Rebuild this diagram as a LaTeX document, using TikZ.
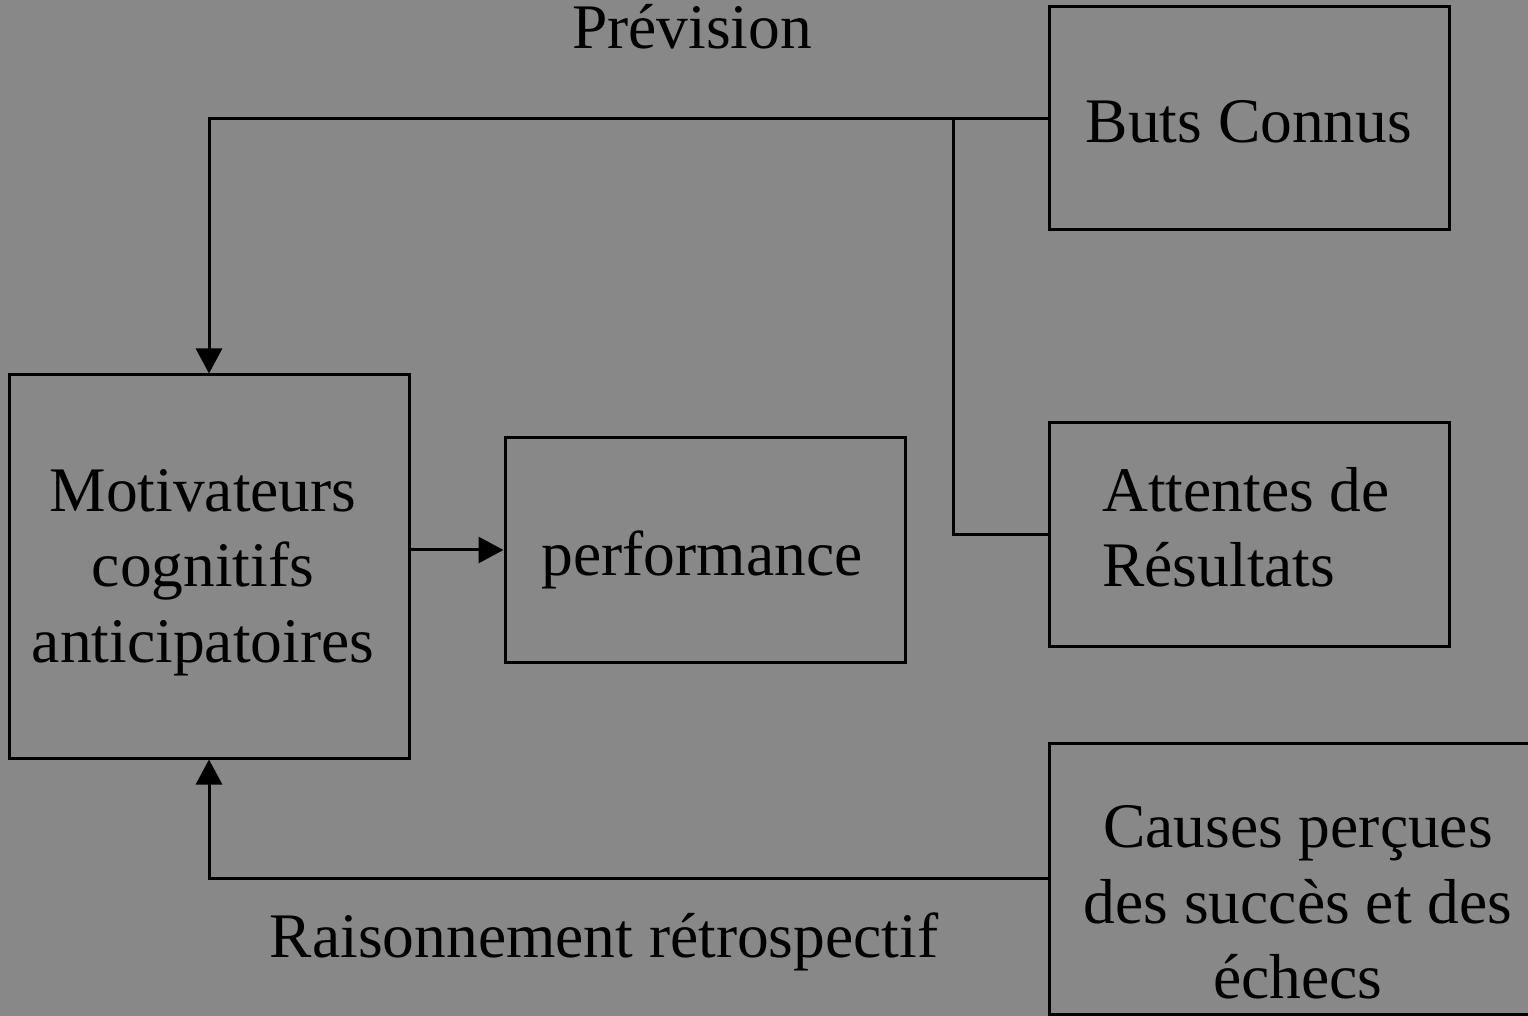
\documentclass[tikz,border=0pt]{standalone}
\usepackage{fontspec}
\setmainfont{Liberation Serif}
\usetikzlibrary{arrows.meta}
\definecolor{bgray}{RGB}{136,136,136}
\begin{document}
\begin{tikzpicture}[x=0.5pt,y=-0.5pt,
  every node/.style={font=\fontsize{31.75}{38}\selectfont, inner sep=0pt},
  box/.style={draw=black, line width=1.5pt, rectangle},
  txt/.style={anchor=base},
  txtl/.style={anchor=base west},
  conn/.style={draw=black, line width=1.5pt},
  arr/.style={conn, -{Triangle[width=13pt,length=12.5pt]}}]
  % canvas
  \fill[bgray] (0,0) rectangle (1528,1016);
  \useasboundingbox (0,0) rectangle (1528,1016);
  \clip (0,0) rectangle (1528,1016);

  % boxes
  \node[box, minimum width=200pt, minimum height=111.5pt] (buts) at (1249,118.5) {};
  \node[box, minimum width=200pt, minimum height=111.5pt] (attentes) at (1249,534.5) {};
  \node[box, minimum width=249.5pt, minimum height=135.5pt] (causes) at (1298.5,878.5) {};
  \node[box, minimum width=200pt, minimum height=191.5pt] (motiv) at (209,566.5) {};
  \node[box, minimum width=200pt, minimum height=112pt] (perf) at (705,550) {};

  % box texts, one node per printed line
  \node[txt] (buts-t) at (1249,143) {Buts Connus};
  \node[txtl] (att-t1) at (1102,511) {Attentes de};
  \node[txtl] (att-t2) at (1102,587) {Résultats};
  \node[txt] (cau-t1) at (1298,847) {Causes perçues};
  \node[txt] (cau-t2) at (1298,923) {des succès et des};
  \node[txt] (cau-t3) at (1298,998) {échecs};
  \node[txt] (mot-t1) at (203,511) {Motivateurs};
  \node[txt] (mot-t2) at (203,587) {cognitifs};
  \node[txt] (mot-t3) at (203,662) {anticipatoires};
  \node[txt] (perf-t) at (702,575) {performance};

  % labels
  \node[txt] (prev) at (692,49) {Prévision};
  \node[txt] (retro) at (604,957) {Raisonnement rétrospectif};

  % connectors
  \coordinate (branch) at (953,118.5);
  \draw[arr] (buts.west) -| (motiv.north);
  \draw[conn] (branch) |- (attentes.west);
  \draw[arr] (causes.west) -| (motiv.south);
  \draw[arr] (motiv.east |- perf.west) -- (perf.west);
\end{tikzpicture}
\end{document}
